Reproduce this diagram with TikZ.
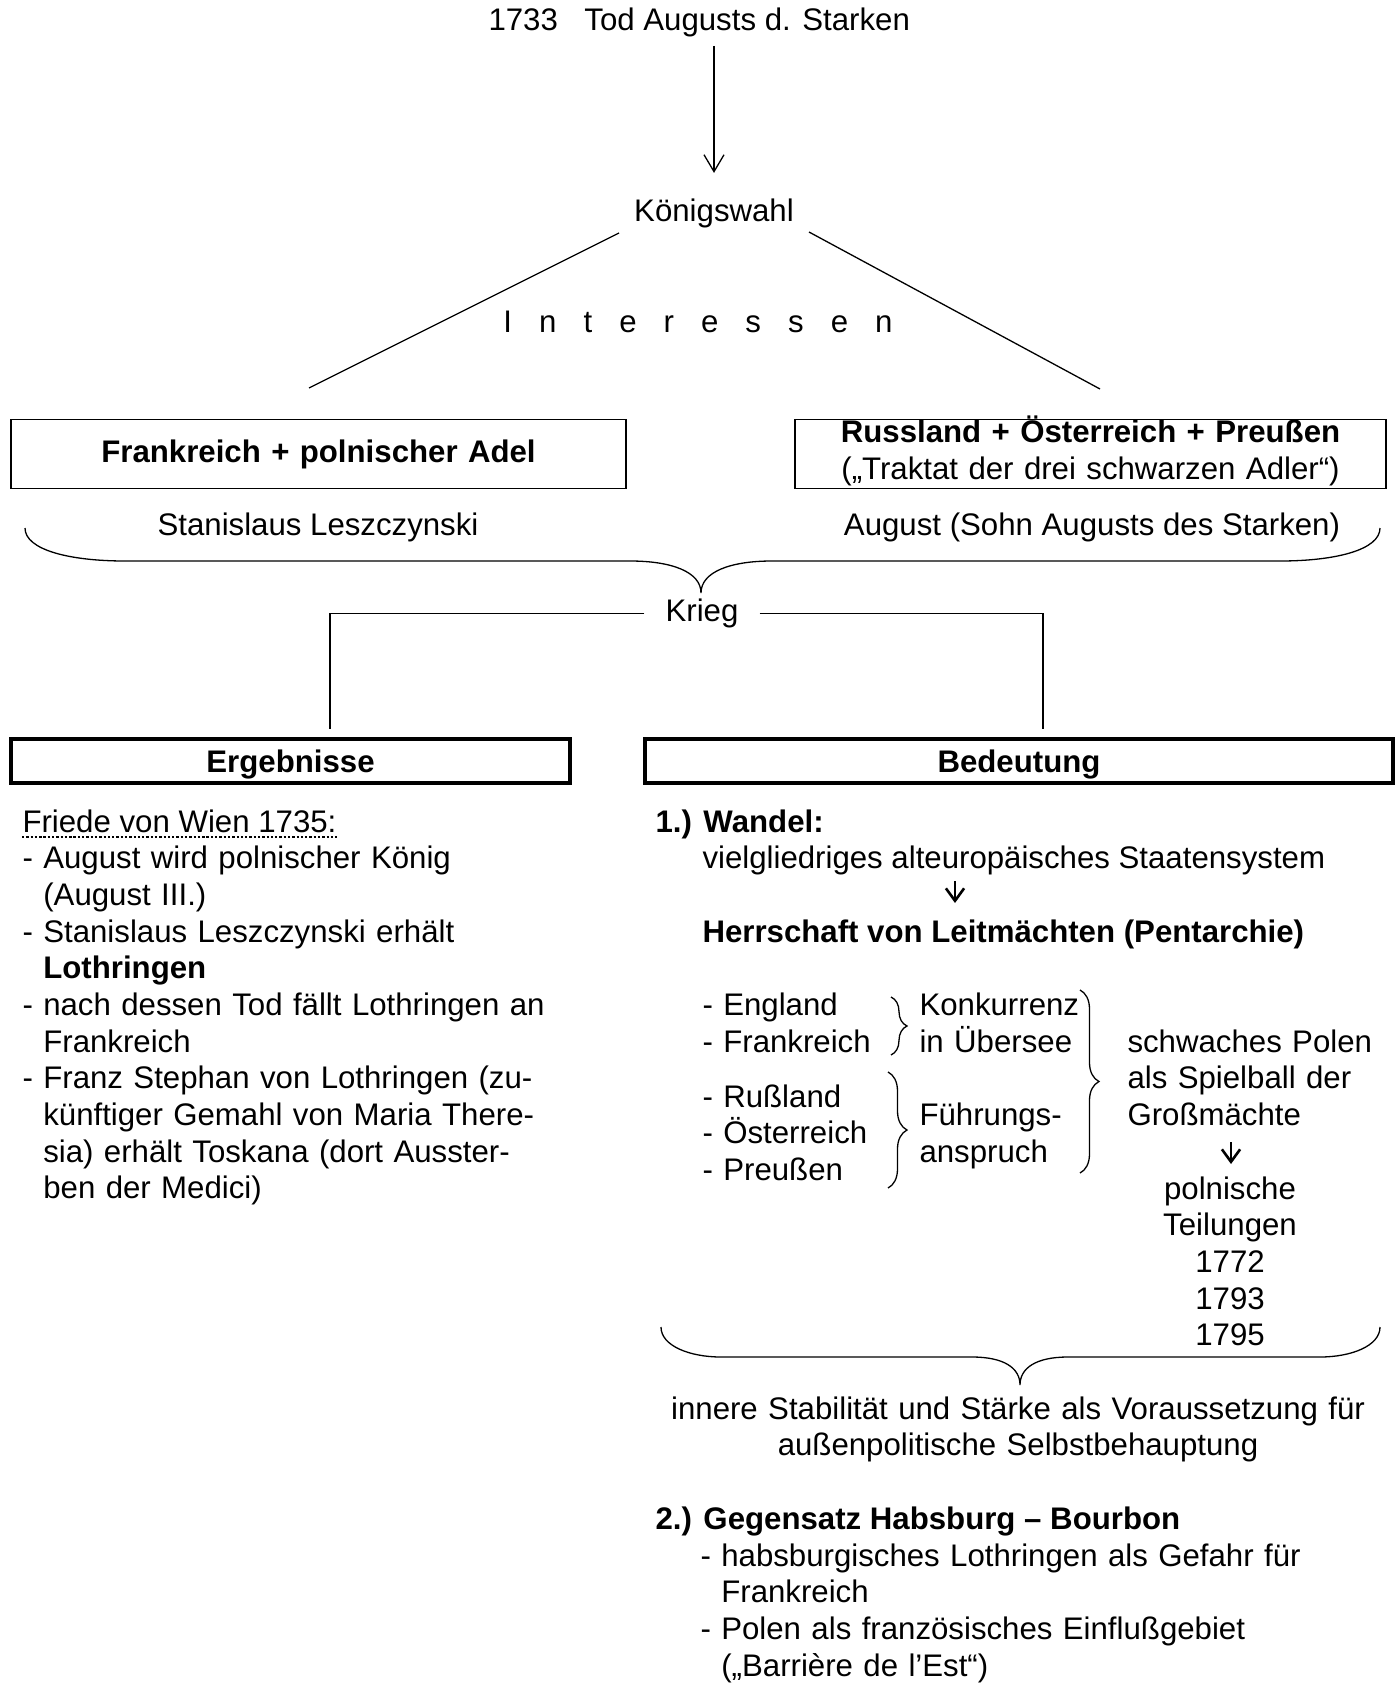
\documentclass[tikz,border=0pt]{standalone}
\usepackage{fontspec}
\setmainfont{Liberation Sans}
\usetikzlibrary{arrows.meta,decorations.pathreplacing}

\newcommand{\strich}{\makebox[8pt][l]{-}}
\newcommand{\einr}{\hspace*{8pt}}
\newcommand{\sperr}{\hspace{10.4pt}}

\begin{document}
\begin{tikzpicture}[x=0.3846pt, y=-0.3846pt,
    every node/.style={font=\fontsize{12pt}{14.1pt}\selectfont, inner sep=0pt},
    zeile/.style={anchor=base west},
    mitte/.style={anchor=base},
    absatz/.style={anchor=base west, text width=#1, align=left},
    kasten/.style={draw, line width=0.7pt, minimum height=26.5pt, text height=8.76pt, align=center},
    kopf/.style={draw, line width=1.5pt, minimum height=16.9pt, text height=8.76pt, text depth=0pt},
    linie/.style={line width=0.5pt},
    punkte/.style={line width=1pt, dash pattern=on 0.9pt off 0.75pt},
    pfeil/.style={line width=0.5pt, -{Straight Barb[length=6.5pt, width=7.7pt]}},
    pfeilk/.style={line width=1pt, -{Straight Barb[length=4.8pt, width=7pt]}},
    klammer/.style={line width=0.5pt, decorate, decoration={brace, amplitude=#1}}]
    \useasboundingbox (0,0) rectangle (1397,1683);

    % Tiêu đề, mũi tên xuống "Königswahl"
    \node[zeile] (titel) at (488,30) {1733\hspace{0.85em}Tod Augusts d. Starken};
    \node[mitte] (koenig) at (714,221) {Königswahl};
    \draw[pfeil, shorten <=3.4pt, shorten >=9.6pt] (titel.south -| koenig.north) -- (koenig.north);

    % Hai nhánh "Interessen"
    \node[mitte] (interessen) at (698,332) {I\sperr n\sperr t\sperr e\sperr r\sperr e\sperr s\sperr s\sperr e\sperr n};
    \coordinate (L1) at (619,233);
    \coordinate (L2) at (309,388);
    \coordinate (R1) at (809,232);
    \coordinate (R2) at (1100,389);
    \draw[linie] (L1) -- (L2);
    \draw[linie] (R1) -- (R2);

    % Hai khung phe phái
    \node[kasten, text width=236.5pt] (frank) at (318.5,454) {\textbf{Frankreich + polnischer Adel}};
    \node[kasten, text width=227.3pt, text height=8pt] (russ) at (1090.5,454) {\textbf{Russland + Österreich + Preußen}\\(„Traktat der drei schwarzen Adler“)};
    \node[mitte] (stan) at (318,535) {Stanislaus Leszczynski};
    \node[mitte] (aug) at (1092,535) {August (Sohn Augusts des Starken)};

    % Ngoặc lớn phía trên
    \draw[linie] (25,528) .. controls (25,550) and (70,561) .. (125,561) -- (630,561)
        .. controls (672,561) and (701,572) .. (701,593)
        .. controls (701,572) and (730,561) .. (772,561) -- (1280,561)
        .. controls (1335,561) and (1380,550) .. (1380,528);

    % Krieg và hai đường nối
    \node[mitte, inner xsep=8pt] (krieg) at (702,621.7) {Krieg};
    \coordinate (kL) at (330,729);
    \coordinate (kR) at (1043,729);
    \draw[linie] (krieg.west) -| (kL);
    \draw[linie] (krieg.east) -| (kR);

    % Hai khung tiêu đề
    \node[kopf, minimum width=215pt] (erg) at (290.5,761) {\textbf{Ergebnisse}};
    \node[kopf, minimum width=287.7pt] (bed) at (1019,761) {\textbf{Bedeutung}};

    % Cột trái: Ergebnisse
    \node[zeile] (friede) at (22,832) {Friede von Wien 1735:};
    \draw[punkte] ([yshift=-1.9pt]friede.base west) -- ([yshift=-1.9pt]friede.base east);
    \node[absatz=240pt] (liste) at (22,868.7) {\strich August wird polnischer König\\
        \einr (August III.)\\
        \strich Stanislaus Leszczynski erhält\\
        \einr \textbf{Lothringen}\\
        \strich nach dessen Tod fällt Lothringen an\\
        \einr Frankreich\\
        \strich Franz Stephan von Lothringen (zu-\\
        \einr künftiger Gemahl von Maria There-\\
        \einr sia) erhält Toskana (dort Ausster-\\
        \einr ben der Medici)};

    % Cột phải: 1.) Wandel
    \node[zeile] (wandel) at (655,832) {\textbf{1.) Wandel:}};
    \node[zeile] (viel) at (702,868.7) {vielgliedriges alteuropäisches Staatensystem};
    \coordinate (w1) at (955,881);
    \coordinate (w2) at (955,903);
    \draw[pfeilk] (w1) -- (w2);
    \node[zeile] (herr) at (702,942.1) {\textbf{Herrschaft von Leitmächten (Pentarchie)}};

    % Các cường quốc và ngoặc nhọn
    \node[absatz=80pt] (west) at (702,1015.5) {\strich England\\\strich Frankreich};
    \node[absatz=80pt] (ost) at (702,1107.2) {\strich Rußland\\\strich Österreich\\\strich Preußen};
    \draw[klammer=6.15pt] (891,997) -- (891,1055);
    \draw[klammer=7.3pt] (888,1072) -- (888,1188);
    \node[absatz=80pt] (konk) at (919,1015.5) {Konkurrenz\\in Übersee};
    \node[absatz=80pt] (fuehr) at (919,1125.6) {Führungs-\\anspruch};
    \draw[klammer=7.3pt] (1080,990) -- (1080,1173);
    \node[absatz=110pt] (polen) at (1127,1052.2) {schwaches Polen\\als Spielball der\\Großmächte};
    \coordinate (w3) at (1231,1142);
    \coordinate (w4) at (1231,1164);
    \draw[pfeilk] (w3) -- (w4);
    \node[mitte, text width=60pt, align=center] (teil) at (1230,1199) {polnische\\Teilungen\\1772\\1793\\1795};

    % Ngoặc lớn phía dưới
    \draw[linie] (661,1327) .. controls (661,1346) and (690,1357) .. (721,1357) -- (972,1357)
        .. controls (1004,1357) and (1020,1368) .. (1020,1385)
        .. controls (1020,1368) and (1036,1357) .. (1068,1357) -- (1320,1357)
        .. controls (1351,1357) and (1380,1346) .. (1380,1327);
    \node[mitte, text width=300pt, align=center] (innere) at (1018,1419.2) {innere Stabilität und Stärke als Voraussetzung für\\außenpolitische Selbstbehauptung};

    % 2.) Gegensatz
    \node[zeile] (gegen) at (655,1529.3) {\textbf{2.) Gegensatz Habsburg – Bourbon}};
    \node[absatz=260pt] (gliste) at (700,1566) {\strich habsburgisches Lothringen als Gefahr für\\
        \einr Frankreich\\
        \strich Polen als französisches Einflußgebiet\\
        \einr („Barrière de l’Est“)};

\end{tikzpicture}
\end{document}
